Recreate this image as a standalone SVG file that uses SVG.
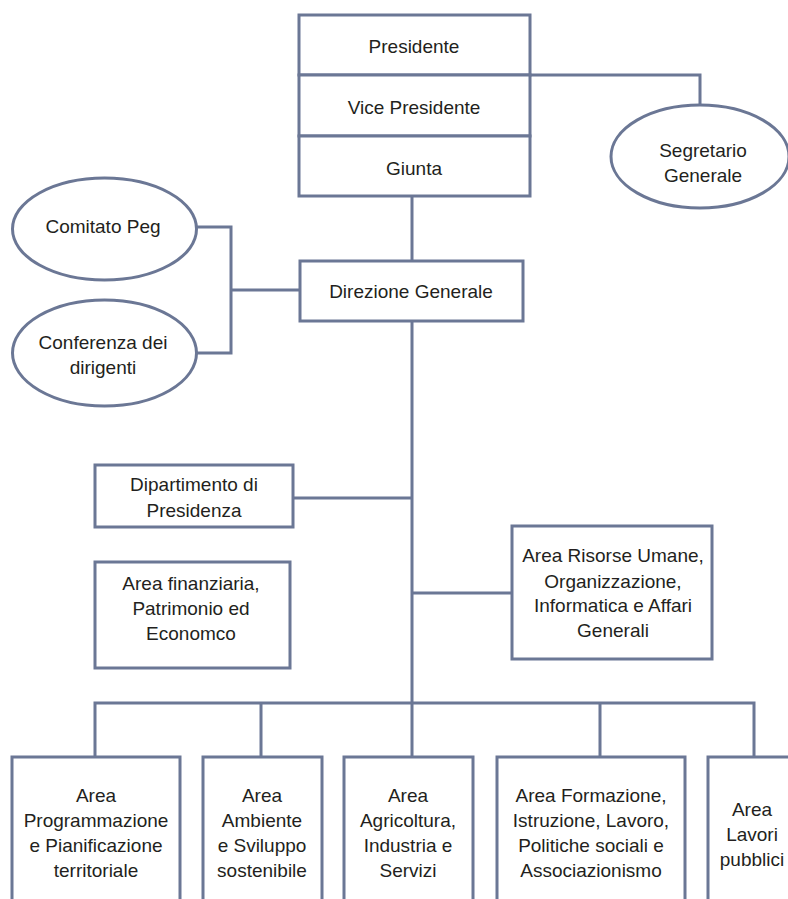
<svg xmlns="http://www.w3.org/2000/svg" width="788" height="899" viewBox="0 0 788 899">
<style>
.b{fill:#fff;stroke:#6b7795;stroke-width:3}
.c{fill:none;stroke:#6b7795;stroke-width:3}
text{font-family:"Liberation Sans",Arial,sans-serif;font-size:19px;fill:#231f20;text-anchor:middle}
</style>
<rect width="788" height="899" fill="#fff"/>
<g id="connectors">
<path class="c" d="M530 75H700V105"/>
<path class="c" d="M412 196V261"/>
<path class="c" d="M197 227H231V353H197M231 290H300"/>
<path class="c" d="M412 321V757M293 498H412M412 593H512"/>
<path class="c" d="M95 757V703H754V757M261 703V757M600 703V757"/>
</g>
<g id="presidente"><rect class="b" x="299" y="15" width="231" height="60"/><text x="414" y="53">Presidente</text></g>
<g id="vicepresidente"><rect class="b" x="299" y="75" width="231" height="61"/><text x="414" y="114">Vice Presidente</text></g>
<g id="giunta"><rect class="b" x="299" y="136" width="231" height="60"/><text x="414" y="175">Giunta</text></g>
<g id="segretario"><ellipse class="b" cx="700" cy="156.5" rx="89" ry="51.5"/><text x="703" y="157">Segretario</text><text x="703" y="182">Generale</text></g>
<g id="comitato"><ellipse class="b" cx="104.5" cy="229" rx="92" ry="51"/><text x="103" y="233">Comitato Peg</text></g>
<g id="conferenza"><ellipse class="b" cx="104.5" cy="353" rx="92" ry="53"/><text x="103" y="349">Conferenza dei</text><text x="103" y="374">dirigenti</text></g>
<g id="direzione"><rect class="b" x="300" y="261" width="223" height="60"/><text x="411" y="298">Direzione Generale</text></g>
<g id="dipartimento"><rect class="b" x="95" y="465" width="198" height="62"/><text x="194" y="491">Dipartimento di</text><text x="194" y="517">Presidenza</text></g>
<g id="finanziaria"><rect class="b" x="95" y="562" width="195" height="106"/><text x="191" y="590">Area finanziaria,</text><text x="191" y="615">Patrimonio ed</text><text x="191" y="640">Economco</text></g>
<g id="risorse"><rect class="b" x="512" y="526" width="200" height="133"/><text x="613" y="562">Area Risorse Umane,</text><text x="613" y="588">Organizzazione,</text><text x="613" y="612">Informatica e Affari</text><text x="613" y="637">Generali</text></g>
<g id="programmazione"><rect class="b" x="12" y="757" width="168" height="160"/><text x="96" y="802">Area</text><text x="96" y="827">Programmazione</text><text x="96" y="852">e Pianificazione</text><text x="96" y="877">territoriale</text></g>
<g id="ambiente"><rect class="b" x="203" y="757" width="119" height="160"/><text x="262" y="802">Area</text><text x="262" y="827">Ambiente</text><text x="262" y="852">e Sviluppo</text><text x="262" y="877">sostenibile</text></g>
<g id="agricoltura"><rect class="b" x="344" y="757" width="129" height="160"/><text x="408" y="802">Area</text><text x="408" y="827">Agricoltura,</text><text x="408" y="852">Industria e</text><text x="408" y="877">Servizi</text></g>
<g id="formazione"><rect class="b" x="497" y="757" width="188" height="160"/><text x="591" y="802">Area Formazione,</text><text x="591" y="827">Istruzione, Lavoro,</text><text x="591" y="852">Politiche sociali e</text><text x="591" y="877">Associazionismo</text></g>
<g id="lavori"><rect class="b" x="708" y="757" width="100" height="160"/><text x="752" y="816">Area</text><text x="752" y="841">Lavori</text><text x="752" y="866">pubblici</text></g>
</svg>
